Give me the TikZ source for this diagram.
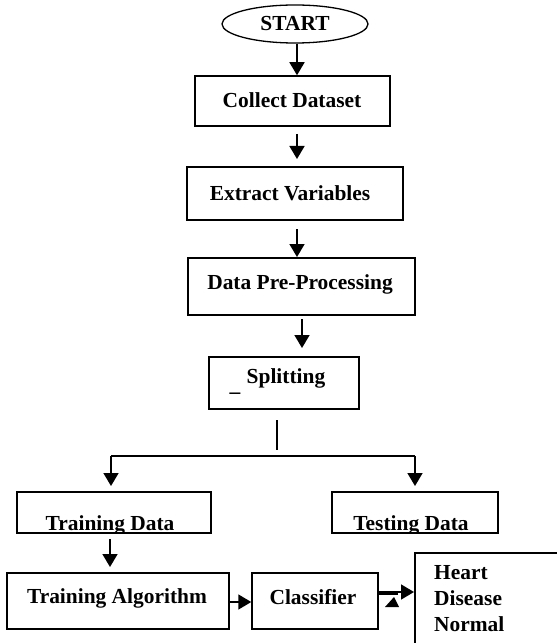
\documentclass[tikz,border=0pt]{standalone}
\usepackage{fontspec}
\setmainfont{Liberation Serif}
\usetikzlibrary{arrows.meta,shapes.geometric}
\begin{document}
\begin{tikzpicture}[x=1bp,y=-1bp,
  font=\fontsize{21.5}{26}\selectfont\bfseries,
  box/.style={draw,line width=1.5bp,rectangle,inner sep=0pt},
  arr/.style={line width=1.6bp,-{Triangle[length=13bp,width=15bp]}},
  ln/.style={line width=1.6bp}]
\useasboundingbox (0,0) rectangle (557,643);
\clip (0,0) rectangle (557,643);
% start
\node[draw,ellipse,line width=1.3bp,minimum width=146bp,minimum height=38bp,inner sep=0pt] (start) at (295,24) {START};
% boxes
\node[box,minimum width=195bp,minimum height=50bp] (collect) at (292.5,101) {};
\node (collecttext) at (292,100) {Collect Dataset};
\node[box,minimum width=216bp,minimum height=53bp] (extract) at (295,193.5) {};
\node (extracttext) at (290,193) {Extract Variables};
\node[box,minimum width=227bp,minimum height=57bp] (prep) at (301.5,286.5) {};
\node (preptext) at (300,284) {Data Pre-Processing};
\node[box,minimum width=150bp,minimum height=52bp] (split) at (284,383) {};
\node (splittext) at (286,378) {Splitting};
\node[inner sep=0pt] (under) at (235,393) {\_};
\node[box,minimum width=194bp,minimum height=41bp] (train) at (114,512.5) {};
\node[box,minimum width=166bp,minimum height=41bp] (test) at (415,512.5) {};
\begin{scope}
\clip (17,492) rectangle (211,532);
\node[anchor=base] (traintext) at (110,530) {Training Data};
\end{scope}
\begin{scope}
\clip (332,492) rectangle (498,532);
\node[anchor=base] (testtext) at (411,530) {Testing Data};
\end{scope}
\node[box,minimum width=222bp,minimum height=56bp] (algo) at (118,601) {};
\node (algotext) at (117,598) {Training Algorithm};
\node[box,minimum width=126bp,minimum height=56bp] (clf) at (315,601) {};
\node (clftext) at (313,597) {Classifier};
\node[box,minimum width=180bp,minimum height=140bp,anchor=north west] (heart) at (414,552) {};
\node[anchor=north west,align=left,inner sep=0pt] (hearttext) at (434,565) {Heart\\Disease\\Normal};
% connectors
\draw[arr] (start.south -| 297,0) -- (collect.north -| 297,0);
\coordinate (c1) at (297,134);
\coordinate (e1) at (297,159);
\draw[arr] (c1) -- (e1);
\coordinate (c2) at (297,229);
\coordinate (e2) at (297,257);
\draw[arr] (c2) -- (e2);
\coordinate (c3) at (302,319);
\coordinate (e3) at (302,348);
\draw[arr] (c3) -- (e3);
\coordinate (s1) at (277,420);
\coordinate (s2) at (277,450);
\draw[line width=1.2bp] (s1) -- (s2);
\coordinate (h1) at (111,456);
\coordinate (h2) at (415,456);
\coordinate (f1) at (111,486);
\coordinate (f2) at (415,486);
\draw[ln] (h1) -- (h2);
\draw[arr] (h1) -- (f1);
\draw[arr] (h2) -- (f2);
\coordinate (t1) at (110,539);
\coordinate (u1) at (110,567);
\draw[arr] (t1) -- (u1);
\draw[arr] (algo.east |- 0,602) -- (clf.west |- 0,602);
\draw[arr] (clf.east |- 0,592) -- (heart.west |- 0,592);
\draw[line width=1.2bp] (clf.east |- 0,594) -- (398,594);
\fill (385,607) -- (399,607) -- (394,597) -- cycle;
\end{tikzpicture}
\end{document}
